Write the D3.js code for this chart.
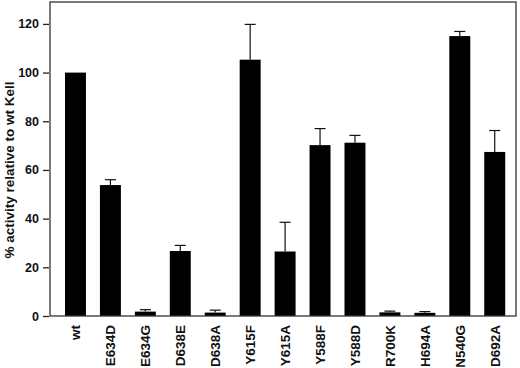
<!DOCTYPE html>
<html>
<meta charset="utf-8">
<body style="margin:0;background:#fff">
<script src="https://cdn.jsdelivr.net/npm/d3@7"></script>
<script>

// data
var mutants = ["wt", "E634D", "E634G", "D638E", "D638A", "Y615F", "Y615A",
               "Y588F", "Y588D", "R700K", "H694A", "N540G", "D692A"];
var activity = [100, 53.8, 1.8, 26.7, 1.4, 105.3, 26.5, 70.2, 71.2, 1.5, 1.3, 115, 67.4];
var errUp    = [0, 2.2, 0.8, 2.3, 1.0, 14.5, 12, 6.8, 3.0, 0.5, 0.5, 1.9, 8.8];
var yTicks = [0, 20, 40, 60, 80, 100, 120];

var width = 520, height = 368;
var plotL = 50, plotR = 516, plotT = 2, plotB = 316;

var svg = d3.select("body").append("svg")
  .attr("width", width)
  .attr("height", height)
  .style("font-family", "Liberation Sans, Arial, sans-serif")
  .style("font-weight", "bold");

var x = d3.scaleBand()
  .domain(mutants)
  .range([58, 512.2])
  .paddingInner(0.4)
  .paddingOuter(0.2);

var y = d3.scaleLinear()
  .domain([0, 129])
  .range([plotB, plotT]);

// bars
svg.append("g").selectAll("rect")
  .data(mutants)
  .enter().append("rect")
  .attr("x", function(d) { return x(d); })
  .attr("width", x.bandwidth())
  .attr("y", function(d, i) { return y(activity[i]); })
  .attr("height", function(d, i) { return y(0) - y(activity[i]); })
  .style("fill", "#000");

// error bars (upper only)
var eb = svg.append("g").style("stroke", "#111").style("stroke-width", 1.2);
mutants.forEach(function(d, i) {
  if (!errUp[i]) return;
  var cx = x(d) + x.bandwidth() / 2;
  var y0 = y(activity[i]), y1 = y(activity[i] + errUp[i]);
  eb.append("line").attr("x1", cx).attr("x2", cx).attr("y1", y0).attr("y2", y1);
  eb.append("line").attr("x1", cx - 5.5).attr("x2", cx + 5.5).attr("y1", y1).attr("y2", y1);
});

// frame
svg.append("rect")
  .attr("x", plotL).attr("y", plotT)
  .attr("width", plotR - plotL).attr("height", plotB - plotT)
  .style("fill", "none")
  .style("stroke", "#333")
  .style("stroke-width", 1.3);

// y axis
var yAxis = svg.append("g")
  .attr("transform", "translate(" + (plotL - 1) + ",0)")
  .call(d3.axisLeft(y).tickValues(yTicks).tickSize(6).tickPadding(4));
yAxis.select(".domain").remove();
yAxis.selectAll("line").style("stroke", "#222").style("stroke-width", 1.3);
yAxis.selectAll("text")
  .style("font-family", "Liberation Sans, Arial, sans-serif")
  .style("font-weight", "bold")
  .style("font-size", "12.5px")
  .style("fill", "#111");

// x labels
svg.append("g").selectAll("text")
  .data(mutants)
  .enter().append("text")
  .attr("transform", function(d) {
    return "translate(" + (x(d) + x.bandwidth() / 2) + ",325) rotate(-90)";
  })
  .attr("text-anchor", "end")
  .attr("dy", "0.36em")
  .style("font-size", "13.5px")
  .style("fill", "#111")
  .text(function(d) { return d; });

// y title
svg.append("text")
  .attr("transform", "translate(14,170) rotate(-90)")
  .attr("text-anchor", "middle")
  .style("font-size", "13.5px")
  .style("fill", "#111")
  .text("% activity relative to wt Kell");

</script>
</body>
</html>
